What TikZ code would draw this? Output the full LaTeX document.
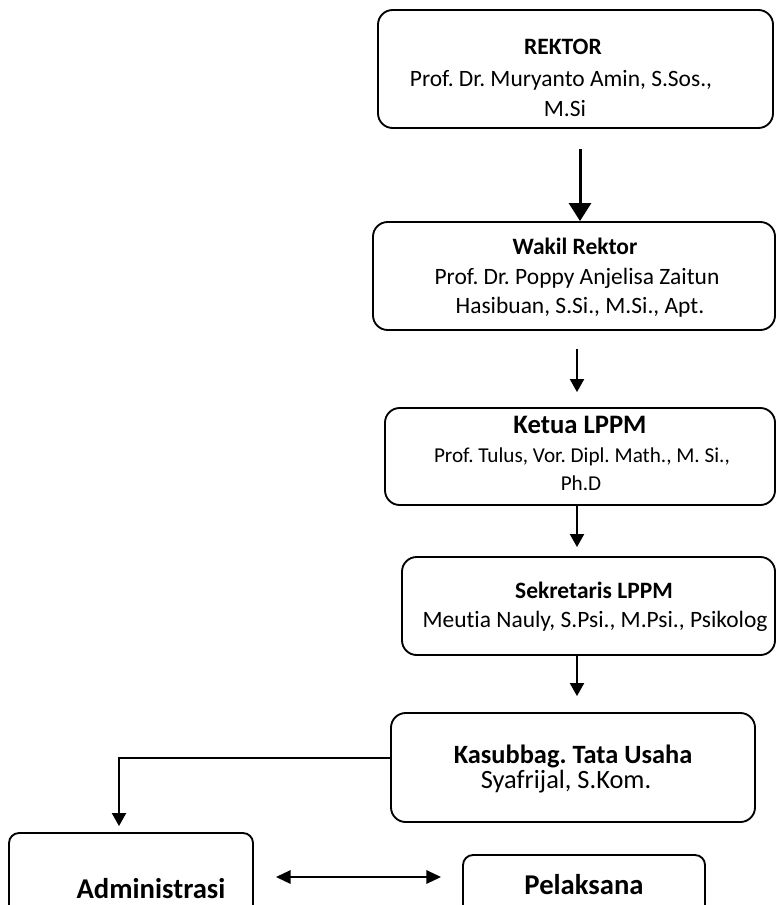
\documentclass[tikz,border=0pt]{standalone}
\usepackage{fontspec}
\setmainfont[RawFeature={-liga}]{Carlito}
\frenchspacing
\usetikzlibrary{arrows.meta,calc}
\begin{document}
\frenchspacing
\begin{tikzpicture}[x=0.75pt,y=-0.75pt,
  box/.style={draw=black, line width=1.4pt, rounded corners=11pt, inner sep=0pt},
  sbox/.style={box, rounded corners=7.5pt},
  lbl/.style={anchor=base, inner sep=0pt},
  fa/.style={font=\fontsize{17.6}{20}\selectfont},
  fab/.style={font=\fontsize{17.6}{20}\selectfont\bfseries},
  fk/.style={font=\fontsize{20}{24}\selectfont\bfseries},
  fks/.style={font=\fontsize{15.9}{19}\selectfont},
  fs/.style={font=\fontsize{19.8}{24}\selectfont},
  fsb/.style={font=\fontsize{19.8}{24}\selectfont\bfseries},
  fb/.style={font=\fontsize{21.5}{26}\selectfont\bfseries},
  arr/.style={line width=1.5pt, -{Triangle[width=10.5pt,length=9.75pt]}},
  bigarr/.style={line width=2.25pt, -{Triangle[width=16.5pt,length=13.5pt]}},
  dblarr/.style={line width=1.5pt, {Triangle[width=10pt,length=11pt]}-{Triangle[width=10pt,length=11pt]}}
]
\useasboundingbox (0,0) rectangle (777,905);
\clip (0,0) rectangle (777,905);
\fill[white] (0,0) rectangle (777,905);

% boxes
\node[box, minimum width=296.25pt, minimum height=88.5pt] (rektor) at (575.5,69) {};
\node[box, minimum width=301.5pt, minimum height=81pt] (wakil) at (574,276) {};
\node[box, minimum width=292.5pt, minimum height=72.75pt] (ketua) at (580,456.5) {};
\node[box, minimum width=279.75pt, minimum height=73.5pt] (sekr) at (588.5,606) {};
\node[box, minimum width=273pt, minimum height=81.75pt] (kasub) at (573,767.5) {};
\node[sbox, minimum width=183pt, minimum height=66pt] (admin) at (131,877) {};
\node[sbox, minimum width=181.5pt, minimum height=49.5pt] (pel) at (584,888) {};

% texts
\node[lbl, fab] (r1) at (563,55) {REKTOR};
\node[lbl, fa] (r2) at (561,87) {Prof. Dr. Muryanto Amin, S.Sos.,};
\node[lbl, fa] (r3) at (565,117) {M.Si};

\node[lbl, fab] (w1) at (575,255) {Wakil Rektor};
\node[lbl, fa] (w2) at (577,285) {Prof. Dr. Poppy Anjelisa Zaitun};
\node[lbl, fa] (w3) at (580,313) {Hasibuan, S.Si., M.Si., Apt.};

\node[lbl, fk] (k1) at (580,433) {Ketua LPPM};
\node[lbl, fks] (k2) at (582,462) {Prof. Tulus, Vor. Dipl. Math., M. Si.,};
\node[lbl, fks] (k3) at (581,490) {Ph.D};

\node[lbl, fab] (s1) at (594,598) {Sekretaris LPPM};
\node[lbl, fa] (s2) at (595,627) {Meutia Nauly, S.Psi., M.Psi., Psikolog};

\node[lbl, fsb] (t1) at (573,763) {Kasubbag. Tata Usaha};
\node[lbl, fs] (t2) at (566,788) {Syafrijal, S.Kom.};

\node[lbl, fb] (a1) at (151,898) {Administrasi};
\node[lbl, fb] (p1) at (584,894) {Pelaksana};

% connectors
\draw[bigarr, shorten <=15pt] ($(rektor.south)+(4.5,0)$) coordinate (c1) -- (c1 |- wakil.north);
\draw[arr, shorten <=13.5pt, shorten >=11.25pt] ($(wakil.south)+(3,0)$) coordinate (c2) -- (c2 |- ketua.north);
\draw[arr, shorten >=6.75pt] ($(ketua.south)+(-3,0)$) coordinate (c3) -- (c3 |- sekr.north);
\draw[arr, shorten >=12pt] ($(sekr.south)+(-11.5,0)$) coordinate (c4) -- (c4 |- kasub.north);
\draw[arr, shorten >=4.5pt] ($(kasub.west)+(0,-9.5)$) -| ($(admin.north)+(-12,0)$);
\draw[dblarr, shorten <=16.5pt, shorten >=15.75pt] (admin.east) -- (admin.east -| pel.west);
\end{tikzpicture}
\end{document}
